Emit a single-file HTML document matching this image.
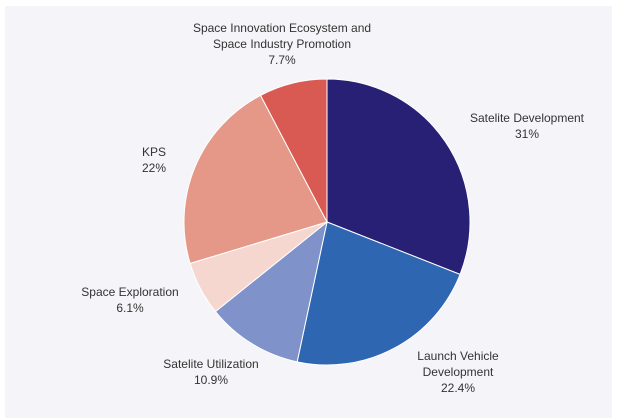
<!DOCTYPE html>
<html><head><meta charset="utf-8"><style>
body{margin:0;background:#fff;}
svg{display:block;font-family:"Liberation Sans",sans-serif;}
</style></head><body>
<svg width="618" height="420">
<rect x="5" y="6" width="607" height="412" fill="#f5f5f9"/>
<g id="slices"></g>
<g id="labels" font-size="12" fill="#333" text-anchor="middle"></g>
</svg>
<script>
const categories=["Satelite Development","Launch Vehicle Development","Satelite Utilization","Space Exploration","KPS","Space Innovation Ecosystem and Space Industry Promotion"];
const values=[31,22.4,10.9,6.1,22,7.7];
const valueLabels=["31%","22.4%","10.9%","6.1%","22%","7.7%"];
const colors=["#272075","#2e66b1","#7f93ca","#f6d7d0","#e59887","#d85a53"];
const labelLines=[["Satelite Development"],["Launch Vehicle","Development"],["Satelite Utilization"],["Space Exploration"],["KPS"],["Space Innovation Ecosystem and","Space Industry Promotion"]];
const labelPos=[[527,122],[458,360],[211,368],[130,296],[154,156],[282,32]];
const cx=327,cy=222,r=143,ns="http://www.w3.org/2000/svg";
const total=values.reduce((a,b)=>a+b,0);
let a=0;
const gs=document.getElementById('slices'),gl=document.getElementById('labels');
values.forEach((v,i)=>{
  const a0=a, a1=a+v/total*2*Math.PI; a=a1;
  const x0=cx+r*Math.sin(a0),y0=cy-r*Math.cos(a0),x1=cx+r*Math.sin(a1),y1=cy-r*Math.cos(a1);
  const p=document.createElementNS(ns,'path');
  p.setAttribute('d',`M${cx},${cy}L${x0},${y0}A${r},${r} 0 ${a1-a0>Math.PI?1:0} 1 ${x1},${y1}Z`);
  p.setAttribute('fill',colors[i]);p.setAttribute('stroke','#fff');p.setAttribute('stroke-width','1');
  
  
  gs.appendChild(p);
  const lines=labelLines[i].concat([valueLabels[i]]);
  const [lx,ly]=labelPos[i];
  lines.forEach((t,j)=>{
    const tx=document.createElementNS(ns,'text');
    tx.setAttribute('x',lx);tx.setAttribute('y',ly+j*16);tx.textContent=t;
    
    
    gl.appendChild(tx);
  });
});
</script>
</body></html>
